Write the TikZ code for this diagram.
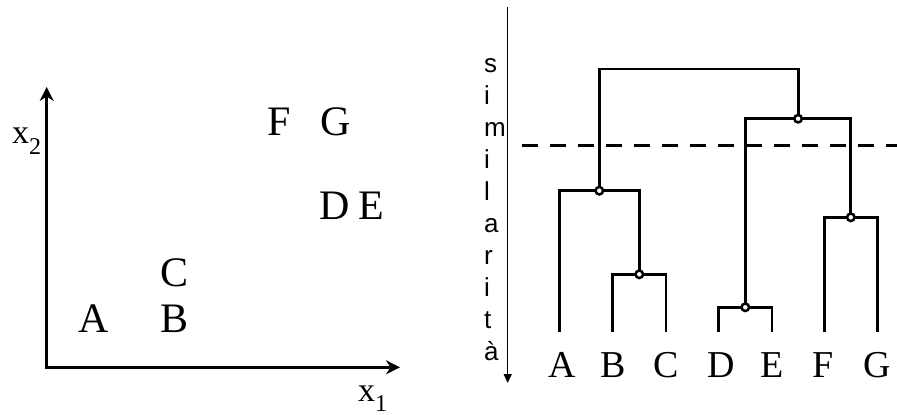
\documentclass[tikz,border=0pt]{standalone}
\usepackage{fontspec}
\setmainfont{Liberation Serif}
\newfontfamily\sansf{Liberation Sans}
\usetikzlibrary{arrows.meta}
\begin{document}
\begin{tikzpicture}[x=1pt,y=-1pt,
  lett/.style={inner sep=0pt, anchor=base, font=\fontsize{42}{50}\selectfont},
  leaflab/.style={inner sep=0pt, anchor=base, font=\fontsize{38}{46}\selectfont},
  simlet/.style={inner sep=0pt, anchor=base west, font=\sansf\fontsize{26}{30}\selectfont},
  axislab/.style={inner sep=0pt, anchor=base west, font=\fontsize{34}{40}\selectfont},
  axis/.style={line width=3.2pt, {Stealth[length=14pt,width=14pt]}-{Stealth[length=14pt,width=14pt]}},
  simaxis/.style={line width=1.3pt, -{Triangle[length=9pt,width=8pt]}},
  tree/.style={line width=2.8pt},
  mnode/.style={circle, draw, fill=white, line width=2.5pt, inner sep=0pt, minimum size=7.5pt},
  cutline/.style={line width=3.2pt, dash pattern=on 16pt off 12pt}
]
\path[use as bounding box] (0,0) rectangle (897,415);

% ---------- left panel: scatter ----------
\coordinate (O) at (46.7,367.3);
\coordinate (Ytip) at (46.7,87);
\coordinate (Xtip) at (400,367.3);
\draw[axis] (Ytip) -- (O) -- (Xtip);
\node[axislab] (x2lab) at (12,143) {x\raisebox{-11pt}{\fontsize{24}{28}\selectfont 2}};
\node[axislab] (x1lab) at (358,401) {x\raisebox{-10pt}{\fontsize{24}{28}\selectfont 1}};

\node[lett] (pA) at (94,332) {A};
\node[lett] (pB) at (175,332) {B};
\node[lett] (pC) at (175,286) {C};
\node[lett] (pF) at (279,135) {F};
\node[lett] (pG) at (336,135) {G};
\node[lett] (pD) at (335,219) {D};
\node[lett] (pE) at (371,219) {E};

% ---------- right panel: dendrogram ----------
\coordinate (simtop) at (507.7,7);
\coordinate (simbot) at (507.7,383);
\draw[simaxis] (simtop) -- (simbot);
\foreach \l [count=\k from 0] in {s,i,m,i,l,a,r,i,t,à}
  \node[simlet] (sim\k) at (484,72+32*\k) {\l};

% leaves
\coordinate (lA) at (559.3,331.7);
\coordinate (lB) at (612.7,331.7);
\coordinate (lC) at (666,331.7);
\coordinate (lD) at (718.7,331.7);
\coordinate (lE) at (772,331.7);
\coordinate (lF) at (824.3,331.7);
\coordinate (lG) at (877.3,331.7);
% merges
\coordinate (cBC) at (639.3,274.3);
\coordinate (cDE) at (745.3,307.3);
\coordinate (cFG) at (850.8,217.3);
\coordinate (cABC) at (599.3,190.7);
\coordinate (cDEFG) at (798.1,118.7);
\coordinate (cRoot) at (698.7,69);

\coordinate (cutL) at (522.3,145.7);
\coordinate (cutR) at (897,145.7);
\draw[cutline] (cutL) -- (cutR);

\draw[tree] (lB) |- (cBC) -| (lC);
\draw[tree] (lD) |- (cDE) -| (lE);
\draw[tree] (lF) |- (cFG) -| (lG);
\draw[tree] (lA) |- (cABC) -| (cBC);
\draw[tree] (cDE) |- (cDEFG) -| (cFG);
\draw[tree] (cABC) |- (cRoot) -| (cDEFG);

\foreach \n in {BC,DE,FG,ABC,DEFG}
  \node[mnode] (m\n) at (c\n) {};

\node[leaflab] (tA) at (562,377) {A};
\node[leaflab] (tB) at (613,377) {B};
\node[leaflab] (tC) at (666,377) {C};
\node[leaflab] (tD) at (721,377) {D};
\node[leaflab] (tE) at (772,377) {E};
\node[leaflab] (tF) at (823,377) {F};
\node[leaflab] (tG) at (877,377) {G};
\end{tikzpicture}
\end{document}
